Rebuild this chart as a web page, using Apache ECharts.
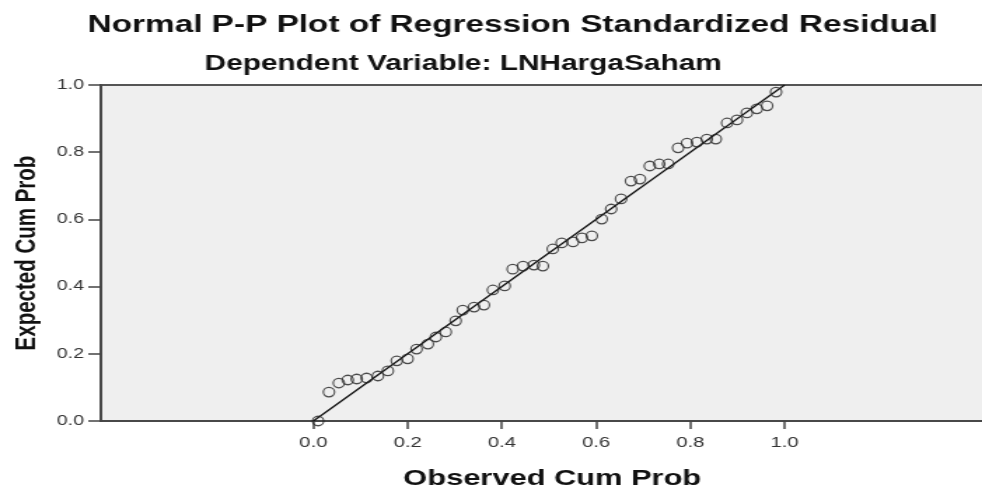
<!DOCTYPE html>
<html lang="en">
<head>
    <meta charset="UTF-8"/>
    <script src="https://cdn.jsdelivr.net/npm/echarts@6/dist/echarts.min.js"></script>
    <title>pp_plot</title>
    <style>
        html, body { margin: 0; padding: 0; background: #fff; overflow: hidden; }
        /* the original SPSS picture is stretched sideways, so stretch the canvas the same way */
        #main { width: 701px; height: 489px; transform: scaleX(1.4009); transform-origin: 0 0; }
    </style>
</head>
<body>

<div id="main"></div>
<script type="text/javascript">
    // observed cum prob (x) and expected cum prob (y)
    var observed = [0.010, 0.033, 0.054, 0.073, 0.092, 0.113, 0.137, 0.158, 0.177, 0.200,
        0.219, 0.243, 0.260, 0.281, 0.302, 0.317, 0.341, 0.362, 0.381, 0.406,
        0.423, 0.445, 0.468, 0.487, 0.508, 0.527, 0.551, 0.570, 0.591, 0.612,
        0.632, 0.653, 0.674, 0.693, 0.714, 0.734, 0.753, 0.774, 0.793, 0.814,
        0.835, 0.854, 0.878, 0.899, 0.920, 0.941, 0.963, 0.982];
    var expected = [0.000, 0.086, 0.113, 0.122, 0.125, 0.128, 0.134, 0.149, 0.179, 0.185,
        0.214, 0.229, 0.250, 0.265, 0.298, 0.330, 0.339, 0.345, 0.390, 0.402,
        0.452, 0.461, 0.464, 0.461, 0.512, 0.530, 0.533, 0.545, 0.551, 0.601,
        0.631, 0.661, 0.714, 0.720, 0.759, 0.765, 0.765, 0.813, 0.827, 0.830,
        0.839, 0.839, 0.887, 0.896, 0.917, 0.929, 0.938, 0.979];
    var diagonal = [0, 1];
    var tickValues = [0, 0.2, 0.4, 0.6, 0.8, 1.0];

    var points = [];
    for (var i = 0; i < observed.length; i++) {
        points.push([observed[i], expected[i]]);
    }
    var linePts = diagonal.map(function (v) { return [v, v]; });

    var font = '"Liberation Sans", Arial, sans-serif';
    var myChart = echarts.init(document.getElementById('main'));

    var option = {
        animation: false,
        title: [
            {
                text: 'Normal P-P Plot of Regression Standardized Residual',
                left: 62.5,
                top: 13,
                padding: 0,
                textStyle: {fontFamily: font, fontSize: 23.8, fontWeight: 'bold', color: '#111'}
            },
            {
                text: 'Dependent Variable: LNHargaSaham',
                left: 146,
                top: 54,
                padding: 0,
                textStyle: {fontFamily: font, fontSize: 21.3, fontWeight: 'bold', color: '#111'}
            }
        ],
        grid: {
            show: true,
            left: 72,
            right: -4,
            top: 85,
            bottom: 68,
            outerBoundsMode: 'none',
            containLabel: false,
            backgroundColor: '#efefef',
            borderColor: '#555',
            borderWidth: 2
        },
        xAxis: {
            type: 'value',
            min: -0.451,
            max: 1.431,
            name: 'Observed Cum Prob',
            nameLocation: 'middle',
            nameGap: 47,
            nameTextStyle: {
                fontFamily: font, fontSize: 22, fontWeight: 'bold', color: '#111',
                padding: [0, 0, 0, 11.4]
            },
            axisLine: {onZero: false, lineStyle: {color: '#444', width: 1.5}},
            axisTick: {show: true, length: 8, customValues: tickValues, lineStyle: {color: '#444', width: 1.5}},
            axisLabel: {
                customValues: tickValues,
                margin: 14,
                fontFamily: font, fontSize: 14.5, color: '#333',
                formatter: function (v) { return v.toFixed(1); }
            },
            splitLine: {show: false}
        },
        yAxis: {
            type: 'value',
            min: 0,
            max: 1,
            interval: 0.2,
            name: 'Expected Cum Prob',
            nameLocation: 'middle',
            nameRotate: 90,
            nameGap: 42,
            nameTextStyle: {fontFamily: font, fontSize: 20.5, fontWeight: 'bold', color: '#111'},
            axisLine: {onZero: false, lineStyle: {color: '#444', width: 1.5}},
            axisTick: {show: true, length: 9, lineStyle: {color: '#444', width: 1.5}},
            axisLabel: {
                margin: 12,
                fontFamily: font, fontSize: 14, color: '#333',
                formatter: function (v) { return v.toFixed(1); }
            },
            splitLine: {show: false}
        },
        series: [
            {
                type: 'line',
                data: linePts,
                showSymbol: false,
                lineStyle: {color: '#111', width: 1.3},
                z: 2
            },
            {
                type: 'scatter',
                data: points,
                symbol: 'circle',
                symbolSize: [8, 9.5],
                itemStyle: {color: 'rgba(0,0,0,0)', borderColor: '#222', borderWidth: 1.2},
                z: 3
            }
        ]
    };

    myChart.setOption(option);
</script>
</body>
</html>
